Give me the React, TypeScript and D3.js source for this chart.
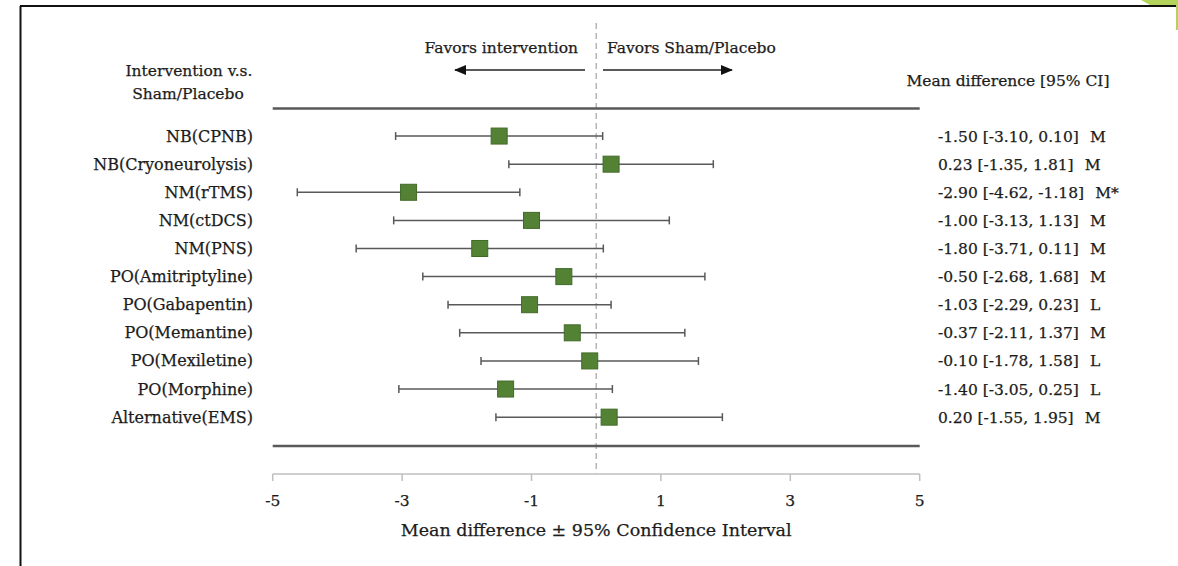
import React from "react";
import * as d3 from "d3";

const labels = [
  "NB(CPNB)",
  "NB(Cryoneurolysis)",
  "NM(rTMS)",
  "NM(ctDCS)",
  "NM(PNS)",
  "PO(Amitriptyline)",
  "PO(Gabapentin)",
  "PO(Memantine)",
  "PO(Mexiletine)",
  "PO(Morphine)",
  "Alternative(EMS)",
];
const meanDiff = [-1.5, 0.23, -2.9, -1.0, -1.8, -0.5, -1.03, -0.37, -0.1, -1.4, 0.2];
const ciLow = [-3.1, -1.35, -4.62, -3.13, -3.71, -2.68, -2.29, -2.11, -1.78, -3.05, -1.55];
const ciHigh = [0.1, 1.81, -1.18, 1.13, 0.11, 1.68, 0.23, 1.37, 1.58, 0.25, 1.95];
const grades = ["M", "M", "M*", "M", "M", "M", "L", "M", "L", "L", "M"];
const xTicks = [-5, -3, -1, 1, 3, 5];

const W = 1178;
const H = 566;
const FONT = "'DejaVu Serif', serif";
const TXT = "#1c1c1c";

const fmt = (v: number) => v.toFixed(2);

const T = (props: any) => (
  <text fill={TXT} stroke={TXT} strokeWidth={0.25} {...props} />
);

export default function App() {
  const x = d3.scaleLinear().domain([-5, 5]).range([272.7, 919.7]);
  const y = d3
    .scaleBand<string>()
    .domain(labels)
    .range([122, 431.2])
    .paddingInner(0)
    .paddingOuter(0);
  const cy = (l: string) => (y(l) as number) + y.bandwidth() / 2;
  const axisY = 474;
  const sq = 16;
  const x0 = x(0);

  return (
    <svg
      width={W}
      height={H}
      style={{ position: "absolute", left: 0, top: 0, background: "#fff" }}
      fontFamily={FONT}
    >
      <defs>
        <marker id="ah" viewBox="0 0 12 10" refX="11" refY="5" markerWidth="12" markerHeight="10" markerUnits="userSpaceOnUse" orient="auto-start-reverse">
          <path d="M0,0 L12,5 L0,10 z" fill="#111" />
        </marker>
      </defs>
      {/* frame */}
      <line x1={20.5} y1={6} x2={20.5} y2={H} stroke="#111" strokeWidth={2} />
      <line x1={20} y1={6} x2={W} y2={6} stroke="#111" strokeWidth={2} />
      <polygon points="1141,0 1178,0 1178,30 1176,30 1176,5 1150,5" fill="#b3d35a" />

      {/* headers */}
      <T x={189} y={76} textAnchor="middle" fontSize={15.5}>Intervention v.s.</T>
      <T x={188} y={99} textAnchor="middle" fontSize={15.5}>Sham/Placebo</T>
      <T x={1008} y={86} textAnchor="middle" fontSize={15.5}>Mean difference [95% CI]</T>
      <T x={578} y={53} textAnchor="end" fontSize={15.5}>Favors intervention</T>
      <T x={607} y={53} textAnchor="start" fontSize={15.5}>Favors Sham/Placebo</T>
      <line x1={585} y1={70} x2={455} y2={70} stroke="#222" strokeWidth={1.5} markerEnd="url(#ah)" />
      <line x1={603} y1={70} x2={732} y2={70} stroke="#222" strokeWidth={1.5} markerEnd="url(#ah)" />

      {/* zero line */}
      <line x1={x0} y1={23} x2={x0} y2={axisY} stroke="#aaa" strokeWidth={1.3} strokeDasharray="6,4" />

      {/* thick separators */}
      <line x1={x(-5)} y1={108.5} x2={x(5)} y2={108.5} stroke="#595959" strokeWidth={2.6} />
      <line x1={x(-5)} y1={446} x2={x(5)} y2={446} stroke="#595959" strokeWidth={2.6} />

      {/* rows */}
      {labels.map((l, i) => {
        const yc = cy(l);
        return (
          <g key={l}>
            <T x={253} y={yc + 5.5} textAnchor="end" fontSize={16}>{l}</T>
            <line x1={x(ciLow[i])} y1={yc} x2={x(ciHigh[i])} y2={yc} stroke="#595959" strokeWidth={1.5} />
            <line x1={x(ciLow[i])} y1={yc - 4} x2={x(ciLow[i])} y2={yc + 4} stroke="#595959" strokeWidth={1.5} />
            <line x1={x(ciHigh[i])} y1={yc - 4} x2={x(ciHigh[i])} y2={yc + 4} stroke="#595959" strokeWidth={1.5} />
            <rect x={x(meanDiff[i]) - sq / 2} y={yc - sq / 2} width={sq} height={sq} fill="#548235" stroke="#416a28" strokeWidth={1} />
            <T x={938} y={yc + 5.5} fontSize={15.5}>
              {`${fmt(meanDiff[i])} [${fmt(ciLow[i])}, ${fmt(ciHigh[i])}]`}
              <tspan dx={11}>{grades[i]}</tspan>
            </T>
          </g>
        );
      })}

      {/* axis */}
      <line x1={x(-5)} y1={axisY} x2={x(5)} y2={axisY} stroke="#bfbfbf" strokeWidth={1.5} />
      {xTicks.map((t) => (
        <g key={t}>
          <line x1={x(t)} y1={axisY} x2={x(t)} y2={axisY + 7} stroke="#bfbfbf" strokeWidth={1.5} />
          <T x={x(t)} y={506} textAnchor="middle" fontSize={15.5}>{t}</T>
        </g>
      ))}
      <T x={x0} y={536} textAnchor="middle" fontSize={17.5}>Mean difference ± 95% Confidence Interval</T>
    </svg>
  );
}
